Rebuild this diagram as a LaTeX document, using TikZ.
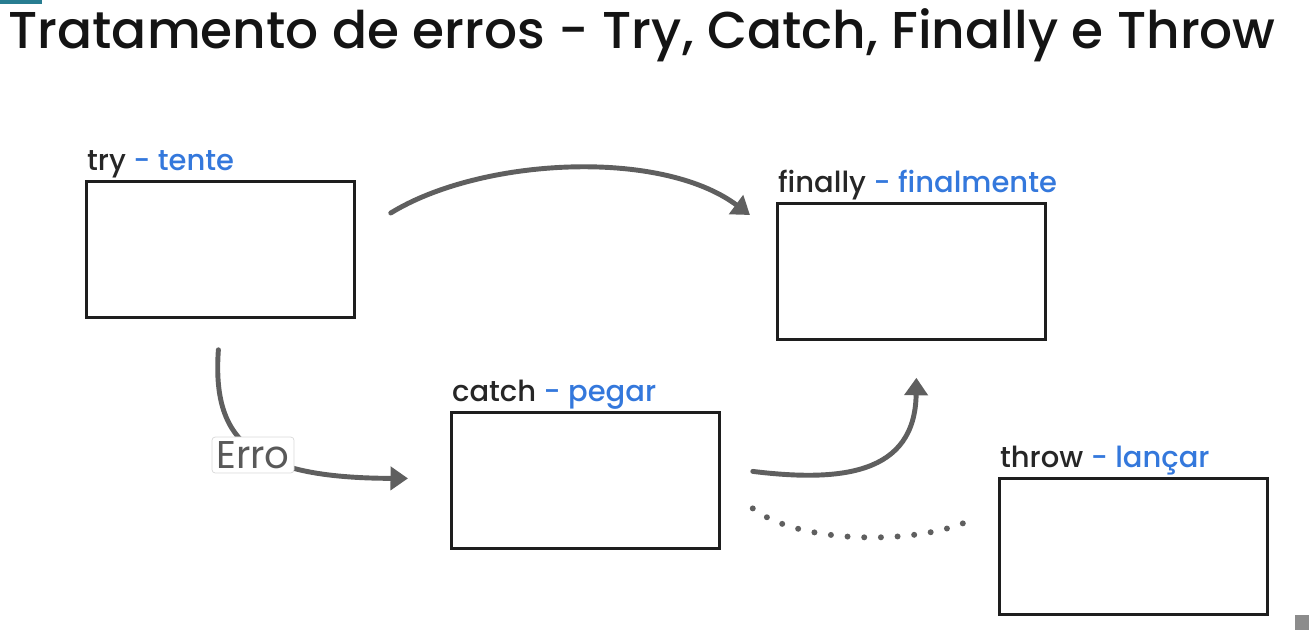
\documentclass[tikz,border=0pt]{standalone}
\usepackage{fontspec}
\setmainfont{Poppins}
\newfontfamily\titlefont{Poppins}[UprightFont=* Medium]
\usetikzlibrary{positioning,arrows.meta,calc}
\definecolor{arrowgray}{RGB}{95,95,95}
\definecolor{transblue}{RGB}{52,120,220}
\definecolor{boxline}{RGB}{30,30,30}
\definecolor{tabteal}{RGB}{40,125,145}
\newcommand{\trad}[1]{\textcolor{transblue}{#1}}
\tikzset{
  blockbox/.style={draw=boxline, line width=1.6pt, minimum width=5.36cm, minimum height=2.72cm,
                   inner sep=0pt, anchor=north west},
  lblbase/.style={font=\titlefont\fontsize{16.5}{19}\selectfont, inner sep=1pt, anchor=south west, text=black!85},
  flow/.style={-{Triangle[length=3.5mm, width=4.6mm]}, line width=2.8pt, arrowgray, line cap=round},
  dotflow/.style={arrowgray, line width=3.4pt, line cap=round, dash pattern=on 0pt off 9.5pt},
  errtag/.style={draw=black!15, fill=white, rounded corners=2pt, text=black!65,
                 font=\fontsize{22}{24}\selectfont, inner sep=2.5pt},
  titletxt/.style={font=\titlefont\fontsize{29.5}{33}\selectfont, anchor=base west, inner sep=0pt, text=black!92}
}

\begin{document}
\begin{tikzpicture}[x=0.02cm, y=-0.02cm]
\useasboundingbox (0,0) rectangle (1309,630);
\fill[tabteal] (0,0) rectangle (42,4);
\fill[black!45] (1295,615) rectangle (1309,630);
\node (title) [titletxt] at (8,48) {Tratamento de erros - Try, Catch, Finally e Throw};
% blocos
\node (try) [blockbox, label={[lblbase]north west:try \trad{- tente}}] at (85,180) {};
\node (finally) [blockbox, label={[lblbase]north west:finally \trad{- finalmente}}] at (776,202) {};
\node (catch) [blockbox, label={[lblbase]north west:catch \trad{- pegar}}] at (450,411) {};
\node (throw) [blockbox, label={[lblbase]north west:throw \trad{- lançar}}] at (998,477) {};
% pontas livres das setas
\coordinate (tryout) at ($(try.north east)+(35,33)$);
\coordinate (finin) at ($(finally.north west)+(-26,13)$);
\coordinate (trydown) at ($(try.south)+(-2,31)$);
\coordinate (catchin) at ($(catch.west)+(-42,-2)$);
\coordinate (catchout) at ($(catch.east)+(32,-9)$);
\coordinate (finup) at ($(finally.south)+(5,37)$);
\coordinate (catchdot) at ($(catch.east)+(32,28)$);
\coordinate (throwdot) at ($(throw.west)+(-26,-27)$);
% setas
\draw[flow] (tryout) .. controls (480,158) and (660,148) .. (finin);
\draw[flow] (trydown) .. controls (212,440) and (250,478) .. (catchin);
\draw[flow] (catchout) .. controls (840,482) and (915,475) .. (finup);
\draw[dotflow] (catchdot) .. controls (800,545) and (920,545) .. (throwdot);
\node (erro) [errtag] at (253,455) {Erro};
\end{tikzpicture}
\end{document}
